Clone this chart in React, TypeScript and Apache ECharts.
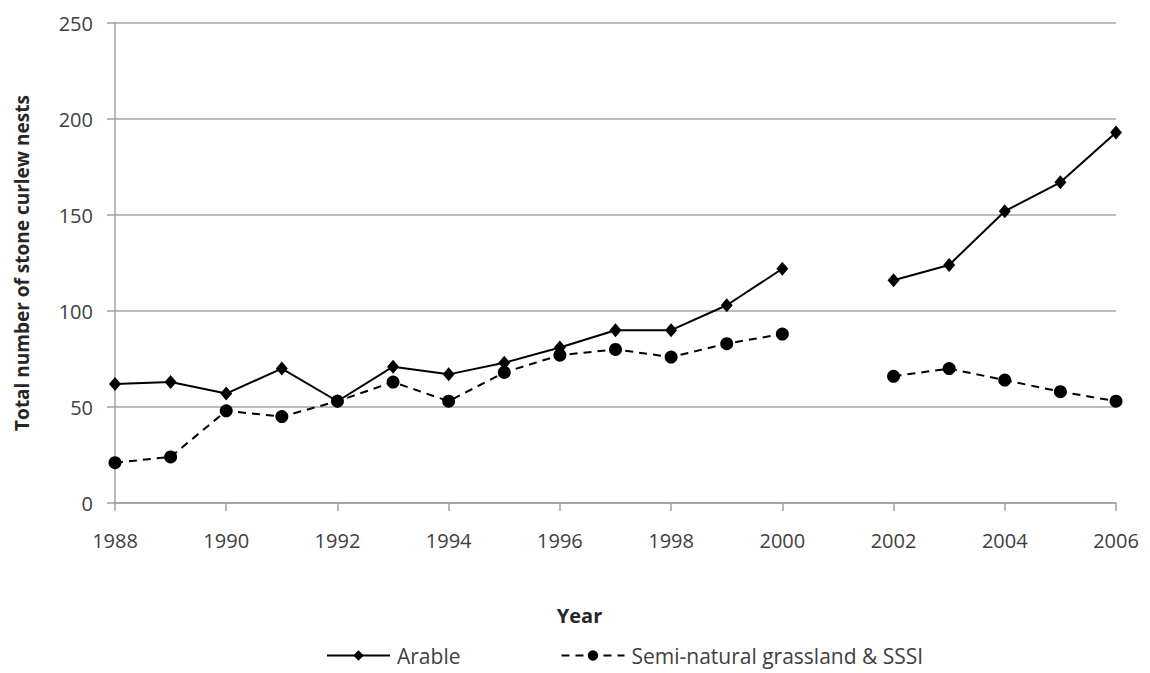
import React, { useEffect, useRef } from "react";
import * as echarts from "echarts";

const years = ["1988","1989","1990","1991","1992","1993","1994","1995","1996","1997","1998","1999","2000","2001","2002","2003","2004","2005","2006"];
const arable = [62, 63, 57, 70, 53, 71, 67, 73, 81, 90, 90, 103, 122, null, 116, 124, 152, 167, 193];
const seminatural = [21, 24, 48, 45, 53, 63, 53, 68, 77, 80, 76, 83, 88, null, 66, 70, 64, 58, 53];

const FONT = "'Open Sans', 'Noto Sans', sans-serif";

export default function App() {
  const ref = useRef<HTMLDivElement>(null);
  useEffect(() => {
    if (!ref.current) return;
    const chart = echarts.init(ref.current, null, { renderer: "svg" });
    chart.setOption({
      animation: false,
      backgroundColor: "#ffffff",
      textStyle: { fontFamily: FONT },
      grid: { left: 115, right: 34, top: 23, bottom: 170, containLabel: false },
      legend: {
        left: 321,
        top: 640,
        itemWidth: 63,
        itemHeight: 13,
        itemGap: 100,
        textStyle: { fontFamily: FONT, fontSize: 21, color: "#404040", padding: [0, 0, 0, 2] },
        data: ["Arable", "Semi-natural grassland & SSSI"],
      },
      xAxis: {
        type: "category",
        data: years,
        boundaryGap: false,
        name: "Year",
        nameLocation: "middle",
        nameGap: 102,
        nameTextStyle: { fontFamily: FONT, fontSize: 20, fontWeight: "bold", color: "#262626", padding: [0, 72, 0, 0] },
        axisLine: { lineStyle: { color: "#a0a0a0", width: 1.5 } },
        axisTick: { show: true, interval: 1, length: 8, lineStyle: { color: "#a0a0a0", width: 1.5 } },
        axisLabel: { interval: 1, margin: 27, fontSize: 20, color: "#404040", fontFamily: FONT },
        splitLine: { show: false },
      },
      yAxis: {
        type: "value",
        min: 0,
        max: 250,
        interval: 50,
        name: "Total number of stone curlew nests",
        nameLocation: "middle",
        nameGap: 84,
        nameTextStyle: { fontFamily: FONT, fontSize: 19, fontWeight: "bold", color: "#262626" },
        axisLine: { show: true, lineStyle: { color: "#a0a0a0", width: 1.5 } },
        axisTick: { show: true, length: 8, lineStyle: { color: "#a0a0a0", width: 1.5 } },
        axisLabel: { margin: 22, fontSize: 20, color: "#404040", fontFamily: FONT },
        splitLine: { show: true, lineStyle: { color: "#a6a6a6", width: 1.5 } },
      },
      series: [
        {
          name: "Arable",
          type: "line",
          data: arable,
          connectNulls: false,
          symbol: "diamond",
          symbolSize: [12, 14],
          itemStyle: { color: "#000" },
          lineStyle: { color: "#000", width: 2 },
        },
        {
          name: "Semi-natural grassland & SSSI",
          type: "line",
          data: seminatural,
          connectNulls: false,
          symbol: "circle",
          symbolSize: 13,
          itemStyle: { color: "#000" },
          lineStyle: { color: "#000", width: 2, type: [8, 6] },
        },
      ],
    });
    return () => chart.dispose();
  }, []);
  return <div ref={ref} style={{ position: "fixed", left: 0, top: 0, width: 1150, height: 673 }} />;
}
